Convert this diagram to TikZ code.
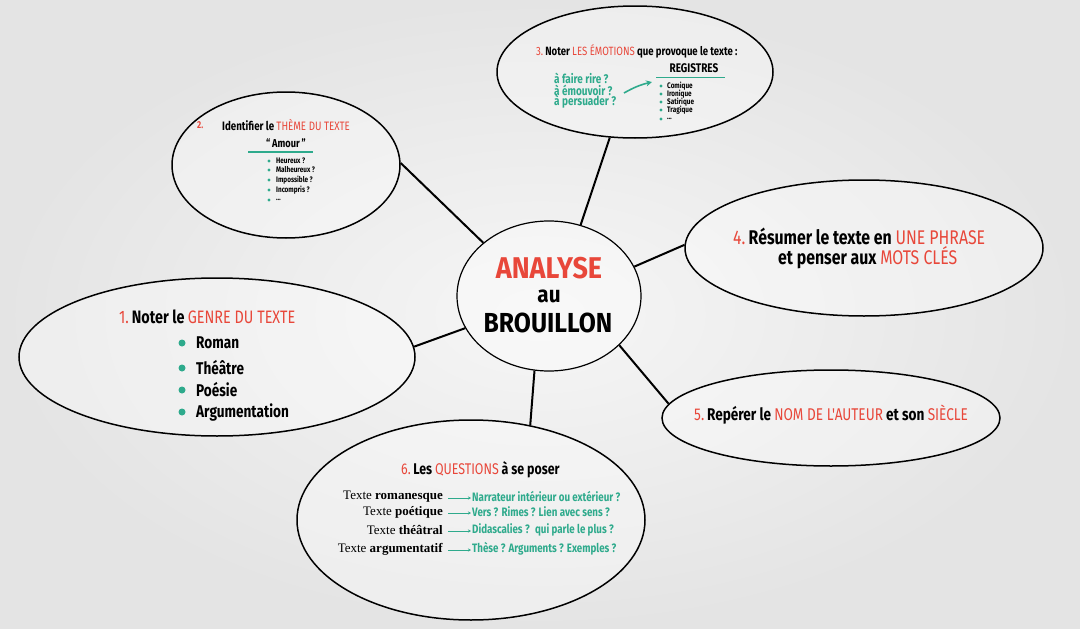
\documentclass[tikz,border=0pt]{standalone}
\usepackage{fontspec}
\usetikzlibrary{shapes.geometric,arrows.meta}
\newfontfamily\hand[FakeStretch=0.8]{Fira Sans}
\newfontfamily\handc[FakeStretch=0.9]{Fira Sans}
\newfontfamily\serifx{Liberation Serif}
\definecolor{hred}{HTML}{E8473A}
\definecolor{hteal}{HTML}{2EAA8C}
\definecolor{bgout}{HTML}{E4E4E4}
\definecolor{bgin}{HTML}{F6F6F6}
\newcommand{\hr}[1]{\textcolor{hred}{\mdseries #1}}
\newcommand{\fsz}[1]{\fontsize{#1}{#1}\selectfont}
\tikzset{
  bubble/.style={draw=black, line width=1.5pt, ellipse, inner sep=0pt, fill=white, fill opacity=0.35, text opacity=1},
  connector/.style={draw=black, line width=2pt},
  lbl/.style={inner sep=0pt, anchor=west, font=\hand\bfseries},
  tealtxt/.style={lbl, text=hteal},
  dotb/.style={fill=hteal},
  tealline/.style={draw=hteal, line width=1.5pt},
  qarrow/.style={draw=hteal, line width=0.7pt, -{Stealth[length=3pt,width=3pt]}},
}
\begin{document}
\begin{tikzpicture}[x=1pt,y=-1pt]
\shade[outer color=bgout, inner color=bgin] (0,0) rectangle (1080,629);
\useasboundingbox (0,0) rectangle (1080,629);

% bubbles
\node[bubble, line width=1.2pt, minimum width=184, minimum height=150] (c) at (549,296) {};
\node[bubble, minimum width=228, minimum height=146] (e2) at (286,165) {};
\node[bubble, minimum width=276, minimum height=132] (e3) at (635,72) {};
\node[bubble, minimum width=358, minimum height=136] (e4) at (864,248) {};
\node[bubble, minimum width=396, minimum height=158] (e1) at (217,357) {};
\node[bubble, minimum width=338, minimum height=96] (e5) at (831,418) {};
\node[bubble, minimum width=348, minimum height=200] (e6) at (471,520) {};

% connectors
\draw[connector] (c.141) -- (e2.1);
\draw[connector] (c.66) -- (e3.249);
\draw[connector] (c.19) -- (e4.179);
\draw[connector] (c.201) -- (e1.3);
\draw[connector] (c.-35) -- (e5.175);
\draw[connector] (c.-101) -- (e6.58);

% centre
\node[lbl, anchor=center, font=\handc\bfseries\fsz{30}, text=hred] (ca) at (549,268) {ANALYSE};
\node[lbl, anchor=center, font=\handc\bfseries\fsz{23}] (cb) at (549,296) {au};
\node[lbl, anchor=center, font=\handc\bfseries\fsz{27.5}] (cc) at (548,323) {BROUILLON};

% 1
\node[lbl, font=\hand\bfseries\fsz{18}] (t1) at (119,317) {\hr{1.}\,Noter le \hr{GENRE DU TEXTE}};
\foreach \y/\t [count=\i] in {343/Roman,368/Th\'e\^atre,390/Po\'esie,412/Argumentation}{
  \fill[dotb] (182,\y) circle (3.5);
  \node[lbl, font=\hand\bfseries\fsz{17}] (g\i) at (196,\y) {\t};
}

% 2
\node[lbl, font=\hand\bfseries\fsz{10}, text=hred] (t2n) at (197,125) {2.};
\node[lbl, font=\hand\bfseries\fsz{12.2}] (t2) at (222,125) {Identifier le \hr{TH\`EME DU TEXTE}};
\node[lbl, anchor=center, font=\hand\bfseries\fsz{11.5}] (am) at (286,143) {\textquotedblleft\,Amour\,\textquotedblright};
\draw[tealline] (248,152) -- (313,152);
\foreach \y/\t [count=\i] in {161/Heureux ?,170/Malheureux ?,180/Impossible ?,190/Incompris ?,200/{\ldots}}{
  \fill[dotb] (269,\y) circle (1.7);
  \node[lbl, font=\hand\bfseries\fsz{8}] (h\i) at (276,\y) {\t};
}

% 3
\node[lbl, font=\hand\bfseries\fsz{12}] (t3) at (536,51) {\hr{3.}\,Noter \hr{LES \'EMOTIONS} que provoque le texte :};
\node[tealtxt, font=\hand\bfseries\fsz{12.5}] (f1) at (554,78) {\`a faire rire ?};
\node[tealtxt, font=\hand\bfseries\fsz{12.5}] (f2) at (554,90) {\`a \'emouvoir ?};
\node[tealtxt, font=\hand\bfseries\fsz{12.5}] (f3) at (554,102) {\`a persuader ?};
\node[lbl, anchor=center, font=\hand\bfseries\fsz{12.5}] (reg) at (694,68) {REGISTRES};
\draw[tealline] (656,77.5) -- (725,77.5);
\coordinate (ar1) at (624,93);
\coordinate (ar2) at (652,82);
\draw[draw=hteal, line width=1.6pt, -{Stealth[length=6pt,width=6pt]}] (ar1) to[bend left=8] (ar2);
\foreach \y/\t [count=\i] in {86/Comique,94/Ironique,102/Satirique,110/Tragique,119/{\ldots}}{
  \fill[dotb] (661,\y) circle (1.7);
  \node[lbl, font=\hand\bfseries\fsz{8}] (r\i) at (667,\y) {\t};
}

% 4
\node[lbl, font=\hand\bfseries\fsz{19.8}] (t4a) at (733,236) {\hr{4.}\,R\'esumer le texte en \hr{UNE PHRASE}};
\node[lbl, font=\hand\bfseries\fsz{19.8}] (t4b) at (778,258) {et penser aux \hr{MOTS CL\'ES}};

% 5
\node[lbl, font=\hand\bfseries\fsz{17}] (t5) at (694,415) {\hr{5.}\,Rep\'erer le \hr{NOM DE L'AUTEUR} et son \hr{SI\`ECLE}};

% 6
\node[lbl, font=\hand\bfseries\fsz{15.5}] (t6) at (401,470) {\hr{6.}\,Les \hr{QUESTIONS} \`a se poser};
\foreach \y/\a/\b [count=\i] in {
  497/romanesque/Narrateur int\'erieur ou ext\'erieur ?,
  512/po\'etique/Vers ? Rimes ? Lien avec sens ?,
  530/th\'e\^atral/Didascalies ? \ qui parle le plus ?,
  549/argumentatif/Th\`ese ? Arguments ? Exemples ?}{
  \node[inner sep=0pt, anchor=east, font=\serifx\fsz{13}] (q\i) at (443,\y) {Texte \textbf{\a}};
  \node[tealtxt, font=\hand\bfseries\fsz{12.2}] (a\i) at (472,\y) {\b};
  \draw[qarrow] ([xshift=5pt,yshift=-1pt]q\i.east) -- ([xshift=-1pt,yshift=-1pt]a\i.west);
}
\end{tikzpicture}
\end{document}
